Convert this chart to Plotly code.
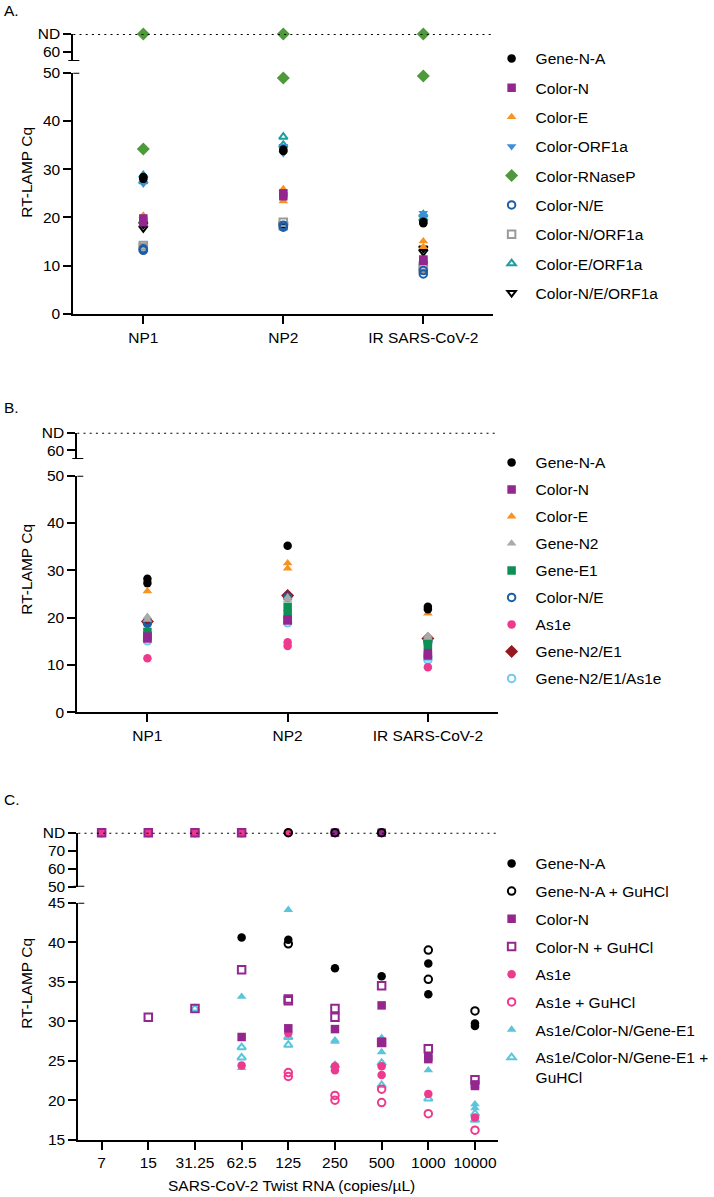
import plotly.graph_objects as go

W, H = 714, 1197
ND = "ND"
FONT = "Liberation Sans, Arial, sans-serif"

# ---------------- Panel A data ----------------
A_CATEGORIES = ["NP1", "NP2", "IR SARS-CoV-2"]
A_GENE_N_A = [[28.0, 28.4], [33.8, 34.1], [18.8, 19.1]]
A_COLOR_N = [[19.0, 19.8], [24.4, 25.0], [11.0, 11.3]]
A_COLOR_E = [[18.8, 20.4], [23.4, 25.9], [13.9, 15.1]]
A_COLOR_ORF1A = [[27.0, 27.6], [33.3, 34.8], [20.2, 20.9]]
A_COLOR_RNASEP = [[34.2, ND], [48.9, ND], [49.3, ND]]
A_COLOR_N_E = [[13.2, 13.5], [18.0, 18.4], [8.3, 9.0]]
A_COLOR_N_ORF1A = [[13.8, 14.2], [18.3, 19.0], [9.5, 10.0]]
A_COLOR_E_ORF1A = [[27.5, 28.7], [35.0, 36.7], [19.8, 20.6]]
A_COLOR_N_E_ORF1A = [[17.8, 18.6], [18.2, 18.6], [12.9, 13.6]]

# ---------------- Panel B data ----------------
B_CATEGORIES = ["NP1", "NP2", "IR SARS-CoV-2"]
B_GENE_N_A = [[27.3, 28.2], [35.2], [21.8, 22.3]]
B_COLOR_N = [[15.6, 16.0], [19.4, 19.6], [12.0, 12.5]]
B_COLOR_E = [[25.6], [30.4, 31.5], [20.9]]
B_GENE_N2 = [[19.6, 20.2], [23.8, 24.3], [15.8, 16.2]]
B_GENE_E1 = [[16.2, 17.0], [20.7, 22.3], [14.2, 15.0]]
B_COLOR_N_E = [[18.8, 19.2], [24.3], [15.0]]
B_AS1E = [[11.4], [14.0, 14.8], [9.5]]
B_GENE_N2_E1 = [[19.2], [24.7], [15.6]]
B_GENE_N2_E1_AS1E = [[15.1], [18.9], [11.1, 11.7]]

# ---------------- Panel C data ----------------
C_CATEGORIES = ["7", "15", "31.25", "62.5", "125", "250", "500", "1000", "10000"]
C_GENE_N_A = [[], [], [], [40.6], [40.3], [36.7], [35.7], [37.3, 33.4], [29.7, 29.4]]
C_GENE_N_A_GUHCL = [[], [], [], [], [39.8, ND], [ND], [ND], [39.0, 35.3], [31.3]]
C_COLOR_N = [[], [], [], [28.0], [29.1], [29.0, ND], [32.0, 27.4, ND], [25.5, 25.2], [22.0, 21.8]]
C_COLOR_N_GUHCL = [[ND], [30.5, ND], [31.6, ND], [36.5, ND], [32.6, 32.8], [31.6, 30.5], [34.5, 27.3], [26.5], [22.6]]
C_AS1E = [[ND], [ND], [ND], [24.4, ND], [28.5, ND], [24.3, 23.8], [24.3, 23.2], [20.8], [17.8]]
C_AS1E_GUHCL = [[ND], [ND], [ND], [ND], [23.5, 23.0], [20.6, 20.0], [21.4, 19.7], [18.3], [16.2]]
C_TRIPLE = [[], [], [], [33.1, 24.1], [44.1, 28.0], [27.6, 27.4], [27.9, 26.1], [23.8], [19.5, 19.0]]
C_TRIPLE_GUHCL = [[], [], [31.6], [26.7, 25.4], [28.0, 27.0], [24.4], [24.7, 21.9], [20.2], [18.3, 17.5]]

BLACK = "#000000"
PURPLE = "#93278F"
ORANGE = "#F7931E"
BLUE = "#3F8FD8"
GREEN = "#4E9A3A"
DKBLUE = "#1B5EA6"
GRAY = "#9A9A9A"
TEAL = "#1A9E9E"
LTGRAY = "#AAAAAA"
EGREEN = "#0E8F55"
PINK = "#EE3A8C"
DKRED = "#94191E"
LTBLUE = "#6FCBF0"
CYAN = "#5BC5DC"

A_SERIES = [
    ("Gene-N-A", A_GENE_N_A, "circle", BLACK),
    ("Color-N", A_COLOR_N, "square", PURPLE),
    ("Color-E", A_COLOR_E, "triangle-up", ORANGE),
    ("Color-ORF1a", A_COLOR_ORF1A, "triangle-down", BLUE),
    ("Color-RNaseP", A_COLOR_RNASEP, "diamond", GREEN),
    ("Color-N/E", A_COLOR_N_E, "circle-open", DKBLUE),
    ("Color-N/ORF1a", A_COLOR_N_ORF1A, "square-open", GRAY),
    ("Color-E/ORF1a", A_COLOR_E_ORF1A, "triangle-up-open", TEAL),
    ("Color-N/E/ORF1a", A_COLOR_N_E_ORF1A, "triangle-down-open", BLACK),
]
B_SERIES = [
    ("Gene-N-A", B_GENE_N_A, "circle", BLACK),
    ("Color-N", B_COLOR_N, "square", PURPLE),
    ("Color-E", B_COLOR_E, "triangle-up", ORANGE),
    ("Gene-N2", B_GENE_N2, "triangle-up", LTGRAY),
    ("Gene-E1", B_GENE_E1, "square", EGREEN),
    ("Color-N/E", B_COLOR_N_E, "circle-open", DKBLUE),
    ("As1e", B_AS1E, "circle", PINK),
    ("Gene-N2/E1", B_GENE_N2_E1, "diamond", DKRED),
    ("Gene-N2/E1/As1e", B_GENE_N2_E1_AS1E, "circle-open", LTBLUE),
]
C_SERIES = [
    ("Gene-N-A", C_GENE_N_A, "circle", BLACK),
    ("Gene-N-A + GuHCl", C_GENE_N_A_GUHCL, "circle-open", BLACK),
    ("Color-N", C_COLOR_N, "square", PURPLE),
    ("Color-N + GuHCl", C_COLOR_N_GUHCL, "square-open", PURPLE),
    ("As1e", C_AS1E, "circle", PINK),
    ("As1e + GuHCl", C_AS1E_GUHCL, "circle-open", PINK),
    ("As1e/Color-N/Gene-E1", C_TRIPLE, "triangle-up", CYAN),
    ("As1e/Color-N/Gene-E1 +<br>GuHCl", C_TRIPLE_GUHCL, "triangle-up-open", CYAN),
]


def xp(p):
    return p / W


def yp(p):
    return 1 - p / H


fig = go.Figure()


def add_panel(series, cats, xa, ya_low, ya_up, nd_val, legend, pfx):
    n = len(series)
    for idx in range(n - 1, -1, -1):
        name, vals, sym, col = series[idx]
        xs, ys, xnd, ynd = [], [], [], []
        for c, lst in zip(cats, vals):
            for v in lst:
                if v == ND:
                    xnd.append(c)
                    ynd.append(nd_val)
                else:
                    xs.append(c)
                    ys.append(v)
        is_open = sym.endswith("open")
        size = 10 if sym == "diamond" else 8.5
        if is_open:
            size = 7.5
        marker = dict(symbol=sym, color=col, size=size,
                      line=dict(width=2 if is_open else 0, color=col))
        fig.add_trace(go.Scatter(
            x=xs, y=ys, mode="markers", name=name, marker=marker,
            xaxis=xa, yaxis=ya_low, legend=legend, legendgroup=pfx + str(idx),
            legendrank=idx + 1, cliponaxis=False))
        if xnd:
            fig.add_trace(go.Scatter(
                x=xnd, y=ynd, mode="markers", name=name, marker=marker,
                xaxis=xa, yaxis=ya_up, legend=legend, legendgroup=pfx + str(idx),
                showlegend=False, cliponaxis=False))


add_panel(A_SERIES, A_CATEGORIES, "x", "y", "y2", 70, "legend", "a")
add_panel(B_SERIES, B_CATEGORIES, "x2", "y3", "y4", 70, "legend2", "b")
add_panel(C_SERIES, C_CATEGORIES, "x3", "y5", "y6", 80, "legend3", "c")

FS = 15.5
tickfont = dict(family=FONT, size=FS, color="black")
axcommon = dict(showline=True, linecolor="black", linewidth=2, ticks="outside",
                ticklen=8, tickwidth=2, tickcolor="black", showgrid=False,
                zeroline=False, tickfont=tickfont, fixedrange=True)

# panel geometry (pixels)
AX = (73.3, 493.3)
BX = (77.3, 498.0)
CX = (78.3, 498.3)

layout = dict(
    width=W, height=H, margin=dict(l=0, r=0, t=0, b=0, autoexpand=False),
    paper_bgcolor="white", plot_bgcolor="white", showlegend=True,
    xaxis=dict(domain=[xp(AX[0]), xp(AX[1])], anchor="y", type="category",
               categoryorder="array", categoryarray=A_CATEGORIES,
               range=[-0.5, 2.5], **axcommon),
    yaxis=dict(domain=[yp(314), yp(72.7)], anchor="x", range=[0, 50],
               tickvals=[0, 10, 20, 30, 40, 50], **axcommon),
    yaxis2=dict(domain=[yp(61), yp(34)], anchor="x", range=[55, 70],
                tickvals=[60, 70], ticktext=["60", "ND"], **axcommon),
    xaxis2=dict(domain=[xp(BX[0]), xp(BX[1])], anchor="y3", type="category",
                categoryorder="array", categoryarray=B_CATEGORIES,
                range=[-0.5, 2.5], **axcommon),
    yaxis3=dict(domain=[yp(712.3), yp(475.7)], anchor="x2", range=[0, 50],
                tickvals=[0, 10, 20, 30, 40, 50], **axcommon),
    yaxis4=dict(domain=[yp(459), yp(432.7)], anchor="x2", range=[55, 70],
                tickvals=[60, 70], ticktext=["60", "ND"], **axcommon),
    xaxis3=dict(domain=[xp(CX[0]), xp(CX[1])], anchor="y5", type="category",
                categoryorder="array", categoryarray=C_CATEGORIES,
                range=[-0.5, 8.5], **axcommon),
    yaxis5=dict(domain=[yp(1139.7), yp(902.7)], anchor="x3", range=[15, 45],
                tickvals=[15, 20, 25, 30, 35, 40, 45], **axcommon),
    yaxis6=dict(domain=[yp(886.7), yp(832.7)], anchor="x3", range=[50, 80],
                tickvals=[50, 60, 70, 80], ticktext=["50", "60", "70", "ND"], **axcommon),
)

legfont = dict(family=FONT, size=FS, color="black")
LX = xp(487.6)
layout["legend"] = dict(x=LX, y=yp(41.8), xanchor="left", yanchor="top",
                        font=legfont, itemwidth=38, tracegroupgap=6.15,
                        bgcolor="rgba(0,0,0,0)", valign="top")
layout["legend2"] = dict(x=LX, y=yp(445.8), xanchor="left", yanchor="top",
                         font=legfont, itemwidth=38, tracegroupgap=3.85,
                         bgcolor="rgba(0,0,0,0)", valign="top")
layout["legend3"] = dict(x=LX, y=yp(846.8), xanchor="left", yanchor="top",
                         font=legfont, itemwidth=38, tracegroupgap=4.55,
                         bgcolor="rgba(0,0,0,0)", valign="top")

shapes = []
for xa, yl, yu, xpix, ndv, lowtop, upbot in [
    ("x", "y", "y2", AX[0], 70, 50, 55),
    ("x2", "y3", "y4", BX[0], 70, 50, 55),
    ("x3", "y5", "y6", CX[0], 80, 45, 50),
]:
    # dotted ND line
    shapes.append(dict(type="line", xref=xa + " domain", x0=0, x1=1, yref=yu,
                       y0=ndv, y1=ndv, line=dict(color="black", width=2, dash="2px,4.2px")))
    # break marks
    shapes.append(dict(type="line", xref="paper", x0=xp(xpix - 5), x1=xp(xpix + 6),
                       yref=yu, y0=upbot, y1=upbot, line=dict(color="black", width=2)))
    shapes.append(dict(type="line", xref="paper", x0=xp(xpix), x1=xp(xpix + 6),
                       yref=yl, y0=lowtop, y1=lowtop, line=dict(color="black", width=2)))
layout["shapes"] = shapes

annfont = dict(family=FONT, size=FS, color="black")
anns = []
for label, yc in [("A.", 10), ("B.", 407.5), ("C.", 799)]:
    anns.append(dict(text=label, x=xp(2), y=yp(yc), xref="paper", yref="paper",
                     xanchor="left", yanchor="middle", showarrow=False, font=annfont))
for yc in [172, 569, 983]:
    anns.append(dict(text="RT-LAMP Cq", x=xp(25.7), y=yp(yc), xref="paper", yref="paper",
                     xanchor="center", yanchor="middle", textangle=-90,
                     showarrow=False, font=annfont))
anns.append(dict(text="SARS-CoV-2 Twist RNA (copies/µL)", x=xp(291), y=yp(1185),
                 xref="paper", yref="paper", xanchor="center", yanchor="middle",
                 showarrow=False, font=annfont))
layout["annotations"] = anns

fig.update_layout(**layout)
fig.write_html("out.html", config={"displayModeBar": False},
               post_script="document.body.style.margin='0';document.body.style.overflow='hidden';")
